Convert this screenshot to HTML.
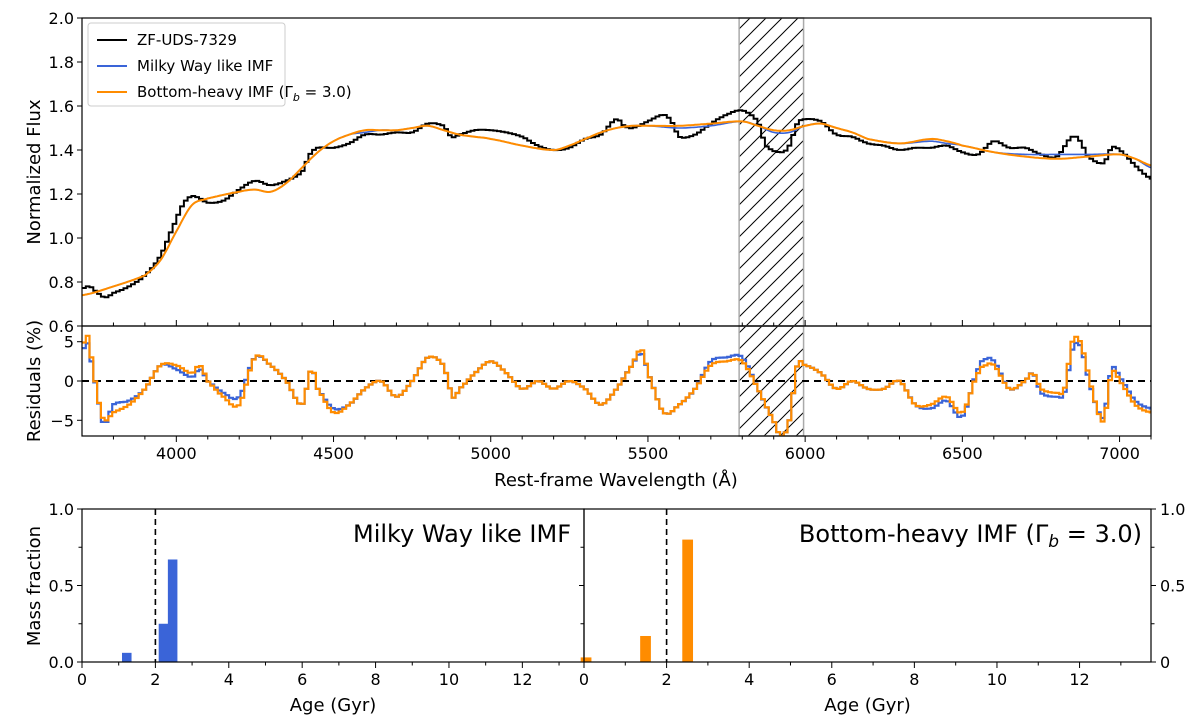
<!DOCTYPE html>
<html><head><meta charset="utf-8"><style>
body{margin:0;background:#fff}
svg{display:block;font-family:"DejaVu Sans","Liberation Sans",sans-serif}
</style></head><body>
<svg id="fig" width="1200" height="722" viewBox="0 0 1200 722">
<defs><pattern id="hatch" patternUnits="userSpaceOnUse" width="16" height="16"><path d="M-4,4 l8,-8 M0,16 l16,-16 M12,20 l8,-8" stroke="#000" stroke-width="1"/></pattern></defs>
</svg>
<script>
const wlObs=[3700,3725,3750,3775,3800,3850,3900,3950,4000,4025,4050,4075,4100,4150,4200,4250,4300,4350,4400,4425,4450,4500,4550,4600,4650,4700,4750,4800,4850,4875,4900,4950,5000,5050,5100,5150,5200,5250,5300,5350,5400,5425,5450,5500,5550,5575,5600,5650,5700,5750,5800,5850,5875,5925,5950,5975,6000,6050,6100,6150,6200,6250,6300,6350,6400,6450,6500,6550,6600,6650,6700,6750,6800,6850,6875,6900,6950,6975,7000,7050,7100];
const fluxObs=[0.77,0.78,0.75,0.73,0.75,0.78,0.83,0.92,1.08,1.16,1.19,1.18,1.16,1.17,1.22,1.26,1.24,1.26,1.30,1.38,1.41,1.41,1.43,1.47,1.47,1.48,1.48,1.52,1.51,1.46,1.47,1.49,1.49,1.48,1.46,1.42,1.40,1.41,1.45,1.47,1.54,1.51,1.50,1.53,1.56,1.53,1.46,1.47,1.52,1.56,1.58,1.53,1.42,1.39,1.42,1.52,1.54,1.53,1.47,1.46,1.43,1.42,1.40,1.41,1.41,1.42,1.39,1.38,1.44,1.41,1.41,1.38,1.37,1.46,1.44,1.37,1.34,1.41,1.40,1.33,1.27];
const wlMod=[3700,3800,3900,3950,4000,4050,4100,4200,4250,4300,4350,4400,4450,4500,4550,4600,4650,4700,4750,4800,4850,4900,4950,5000,5100,5200,5250,5300,5350,5400,5450,5500,5600,5700,5800,5850,5900,5950,6000,6050,6100,6150,6200,6300,6400,6450,6500,6600,6700,6800,6900,7000,7050,7100];
const fluxMW=[0.74,0.78,0.83,0.90,1.03,1.15,1.18,1.21,1.22,1.21,1.25,1.32,1.39,1.44,1.47,1.48,1.49,1.49,1.50,1.51,1.49,1.47,1.46,1.45,1.42,1.40,1.42,1.45,1.48,1.50,1.51,1.51,1.50,1.51,1.53,1.51,1.48,1.48,1.51,1.52,1.50,1.48,1.45,1.43,1.44,1.43,1.42,1.39,1.38,1.38,1.38,1.38,1.36,1.32];
const fluxBH=[0.74,0.78,0.83,0.90,1.03,1.15,1.18,1.21,1.22,1.21,1.25,1.32,1.39,1.44,1.47,1.49,1.49,1.49,1.50,1.51,1.49,1.47,1.46,1.45,1.42,1.40,1.42,1.45,1.48,1.50,1.51,1.51,1.51,1.52,1.53,1.51,1.49,1.49,1.51,1.52,1.50,1.48,1.45,1.43,1.45,1.44,1.42,1.39,1.37,1.36,1.37,1.38,1.36,1.33];
const wlRes=[3700,3715,3730,3750,3770,3800,3850,3900,3950,4000,4050,4075,4100,4150,4200,4250,4300,4350,4400,4430,4450,4500,4550,4600,4650,4700,4750,4800,4850,4880,4900,4950,5000,5050,5100,5150,5200,5250,5300,5350,5400,5450,5480,5500,5550,5600,5650,5700,5750,5800,5850,5900,5925,5950,5975,6000,6050,6100,6150,6200,6250,6300,6350,6400,6450,6500,6550,6575,6600,6650,6700,6725,6750,6800,6825,6850,6875,6900,6925,6950,6975,7000,7050,7100];
const resBH=[4,6,3,-2,-5,-4,-3,-1,2,2,1,2,0,-2,-3,3,2,0,-3,1.5,-1,-4,-3,-1,0,-2,0,3,2,-2,-1,1,2.5,1,-1,0,-1,0,-1,-3,-1,2,4,1,-4,-3,-1,2,2.5,2.5,-1,-5,-7,-5,2,2,1,-1,0,-1,-1,0,-3,-3,-2,-4,1,2,2,-1,0,1,-1,-1.5,-1,5,5,1,-3,-5,1,0,-3,-4];
const resMW=[3.5,5,2.5,-2,-5.5,-3,-2.5,-1,2,1.5,0.5,1.5,0,-1.5,-2,3,2,0,-3,1.5,-1,-3.5,-3,-1,0,-2,0,3,2,-2,-1,1,2.5,1,-1,0,-1,0,-1,-3,-1,2,3.5,1,-4,-3,-1,2.5,3,3,-1,-5,-7,-5,2,2,1,-1,0,-1,-1,0,-3,-3.5,-2.5,-4.5,1.5,2.8,2.5,-1,0,1,-1.5,-2,-1.5,4,4.5,0.5,-3,-4.5,1.5,0.5,-2.5,-3.5];
const ageMW=[1.22,2.22,2.47];
const massMW=[0.06,0.25,0.67];
const ageBH=[0.05,1.49,2.51];
const massBH=[0.03,0.17,0.80];
const wTicks=[4000,4500,5000,5500,6000,6500,7000];
const fTicks=[0.8,1.0,1.2,1.4,1.6,1.8,2.0];
const rTicks=[5,0,-5];
const ageTicks=[0,2,4,6,8,10,12];

const NS='http://www.w3.org/2000/svg';
const svg=document.getElementById('fig');
function mk(tag,at,txt,parent){const e=document.createElementNS(NS,tag);for(const k in at)e.setAttribute(k,at[k]);if(txt!==undefined)e.textContent=txt;(parent||svg).appendChild(e);return e;}
const L=82,R=1151;
const xW=w=>L+(w-3700)/(7100-3700)*(R-L);
const yF=f=>18+(2.0-f)/1.4*(326-18);
const yR=r=>326+(7-r)/14*(436-326);
const BL0=L,BL1=584,BR0=584,BR1=1151;
const xA1=a=>BL0+a/13.68*(BL1-BL0);
const xA2=a=>BR0+a/13.73*(BR1-BR0);
const yM=m=>662-m*(662-509);

// smooth evaluator (Catmull-Rom) for rendering on a fine pixel grid
function evalAt(xs,ys,x){let i=0;while(i<xs.length-2&&x>xs[i+1])i++;const t=Math.max(0,Math.min(1,(x-xs[i])/(xs[i+1]-xs[i])));
 const y0=ys[Math.max(0,i-1)],y1=ys[i],y2=ys[i+1],y3=ys[Math.min(ys.length-1,i+2)];
 const t2=t*t,t3=t2*t;return 0.5*((2*y1)+(-y0+y2)*t+(2*y0-5*y1+4*y2-y3)*t2+(-y0+3*y1-3*y2+y3)*t3);}
function fineStep(xs,ys,fx,fy,bin){let d='';const x0=xs[0],x1=xs[xs.length-1];let first=true;
 for(let w=x0;w<x1;w+=bin){const v=evalAt(xs,ys,w+bin/2);const a=fx(w).toFixed(1),b=fx(Math.min(x1,w+bin)).toFixed(1),y=fy(v).toFixed(1);d+=(first?'M':'L')+a+','+y+'L'+b+','+y;first=false;}return d;}
function smoothPath(xs,ys,fx,fy){let d='';for(let w=xs[0];w<=xs[xs.length-1];w+=5){d+=(d?'L':'M')+fx(w).toFixed(1)+','+fy(evalAt(xs,ys,w)).toFixed(1);}return d;}

const defs=svg.querySelector('defs');
const ct=mk('clipPath',{id:'cTop'},undefined,defs);mk('rect',{x:L,y:18,width:R-L,height:308},undefined,ct);
const cr=mk('clipPath',{id:'cRes'},undefined,defs);mk('rect',{x:L,y:326,width:R-L,height:110},undefined,cr);

let h=mk('rect',{x:xW(5790),y:18,width:xW(5995)-xW(5790),height:308,fill:'url(#hatch)',stroke:'#aaa','stroke-width':1.5});

h=mk('rect',{x:xW(5790),y:326,width:xW(5995)-xW(5790),height:110,fill:'url(#hatch)',stroke:'#aaa','stroke-width':1.5});


let p=mk('path',{d:fineStep(wlObs,fluxObs,xW,yF,12),fill:'none',stroke:'#000','stroke-width':2,'clip-path':'url(#cTop)'});

p=mk('path',{d:smoothPath(wlMod,fluxMW,xW,yF),fill:'none',stroke:'#3a64d8','stroke-width':1.6,'clip-path':'url(#cTop)'});

p=mk('path',{d:smoothPath(wlMod,fluxBH,xW,yF),fill:'none',stroke:'#ff8c00','stroke-width':2,'clip-path':'url(#cTop)'});


p=mk('line',{x1:L,x2:R,y1:yR(0),y2:yR(0),stroke:'#000','stroke-width':2,'stroke-dasharray':'7,5'});

p=mk('path',{d:fineStep(wlRes,resMW,xW,yR,12),fill:'none',stroke:'#3a64d8','stroke-width':2.2,'clip-path':'url(#cRes)'});

p=mk('path',{d:fineStep(wlRes,resBH,xW,yR,12),fill:'none',stroke:'#ff8c00','stroke-width':2.2,'clip-path':'url(#cRes)'});


p=mk('rect',{x:L,y:18,width:R-L,height:308,fill:'none',stroke:'#000','stroke-width':1.2});

p=mk('rect',{x:L,y:326,width:R-L,height:110,fill:'none',stroke:'#000','stroke-width':1.2});


for(let w=3800;w<=7100;w+=100){const x=xW(w);const maj=w%500==0;
 mk('line',{x1:x,x2:x,y1:436,y2:436+(maj?6:3.5),stroke:'#000','stroke-width':1});
 mk('line',{x1:x,x2:x,y1:326,y2:326-(maj?6:3.5),stroke:'#000','stroke-width':1});}
wTicks.forEach(w=>{const t=mk('text',{x:xW(w),y:459,'font-size':16,'text-anchor':'middle'},String(w));});
fTicks.forEach(f=>{mk('line',{x1:L,x2:L-5,y1:yF(f),y2:yF(f),stroke:'#000'});const t=mk('text',{x:L-8,y:yF(f)+6,'font-size':16,'text-anchor':'end'},f.toFixed(1));});
mk('line',{x1:L,x2:L-5,y1:yF(0.6),y2:yF(0.6),stroke:'#000'});
let t=mk('text',{x:L-8,y:yF(0.6)+6,'font-size':16,'text-anchor':'end'},'0.6');
rTicks.forEach(r=>{mk('line',{x1:L,x2:L-5,y1:yR(r),y2:yR(r),stroke:'#000'});const t=mk('text',{x:L-8,y:yR(r)+6,'font-size':16,'text-anchor':'end'},r<0?'\u2212'+(-r):String(r));});

t=mk('text',{x:616,y:486,'font-size':18,'text-anchor':'middle'},'Rest-frame Wavelength (Å)');
t=mk('text',{x:0,y:0,'font-size':18,'text-anchor':'middle',transform:'translate(40,172) rotate(-90)'},'Normalized Flux');
t=mk('text',{x:0,y:0,'font-size':18,'text-anchor':'middle',transform:'translate(40,381) rotate(-90)'},'Residuals (%)');

const lg=mk('g',{});
mk('rect',{x:88,y:23,width:197,height:83,rx:3,fill:'#fff',stroke:'#ccc'},undefined,lg);
[['ZF-UDS-7329','#000'],['Milky Way like IMF','#3a64d8'],['Bottom-heavy IMF (Γ','#ff8c00']].forEach((e,i)=>{const y=40+i*26;
 mk('line',{x1:97,x2:127,y1:y,y2:y,stroke:e[1],'stroke-width':2},undefined,lg);
 const tx=mk('text',{x:137,y:y+5,'font-size':15},e[0],lg);
 if(i==2){mk('tspan',{'font-size':11,dy:4,'font-style':'italic'},'b',tx);mk('tspan',{dy:-4},' = 3.0)',tx);}
});

function panel(x0,x1,xf,ages,mass,color,name){
 mk('line',{x1:xf(2),x2:xf(2),y1:509,y2:662,stroke:'#000','stroke-width':1.6,'stroke-dasharray':'6,4'});
 ages.forEach((a,i)=>{const b=mk('rect',{x:xf(a-0.13),y:yM(mass[i]),width:xf(a+0.13)-xf(a-0.13),height:662-yM(mass[i]),fill:color});});
 const r=mk('rect',{x:x0,y:509,width:x1-x0,height:153,fill:'none',stroke:'#000','stroke-width':1.2});
 for(let a=0;a<=13;a++){mk('line',{x1:xf(a),x2:xf(a),y1:662,y2:662+(a%2?3.5:6),stroke:'#000'});}
 ageTicks.forEach(a=>{const t=mk('text',{x:xf(a),y:685,'font-size':16,'text-anchor':'middle'},String(a));});
 const at=mk('text',{x:(x0+x1)/2,y:711,'font-size':18,'text-anchor':'middle'},'Age (Gyr)');
}
panel(BL0,BL1,xA1,ageMW,massMW,'#3a64d8','milky-way');
panel(BR0,BR1,xA2,ageBH,massBH,'#ff8c00','bottom-heavy');
for(let m=0;m<=1;m+=0.25){mk('line',{x1:BL0,x2:BL0-(m%0.5?3.5:5),y1:yM(m),y2:yM(m),stroke:'#000'});mk('line',{x1:BR0,x2:BR0-(m%0.5?3.5:5),y1:yM(m),y2:yM(m),stroke:'#000'});mk('line',{x1:BR1,x2:BR1+(m%0.5?3.5:5),y1:yM(m),y2:yM(m),stroke:'#000'});}
[[0,'0.0','0'],[0.5,'0.5','0.5'],[1,'1.0','1.0']].forEach(v=>{let t=mk('text',{x:BL0-8,y:yM(v[0])+6,'font-size':16,'text-anchor':'end'},v[1]);
 t=mk('text',{x:BR1+9,y:yM(v[0])+6,'font-size':16},v[2]);});
t=mk('text',{x:0,y:0,'font-size':18,'text-anchor':'middle',transform:'translate(40,586) rotate(-90)'},'Mass fraction');
t=mk('text',{x:571,y:542,'font-size':24,'text-anchor':'end'},'Milky Way like IMF');
t=mk('text',{x:1142,y:542,'font-size':24,'text-anchor':'end'},'Bottom-heavy IMF (Γ');
mk('tspan',{'font-size':17,dy:5,'font-style':'italic'},'b',t);mk('tspan',{dy:-5},' = 3.0)',t);
</script>
</body></html>
